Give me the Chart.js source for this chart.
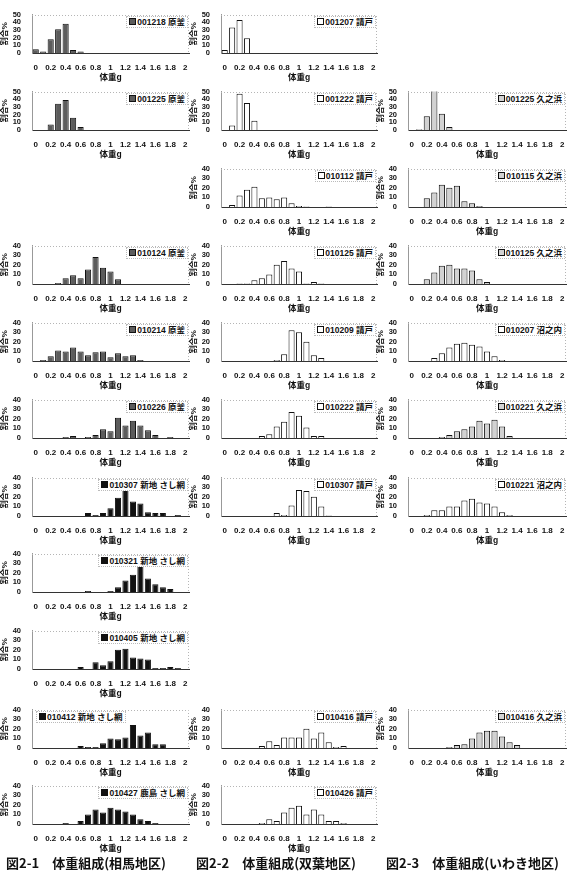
<!DOCTYPE html>
<html>
<head>
<meta charset="utf-8">
<script src="https://cdn.jsdelivr.net/npm/chart.js@4.4.1/dist/chart.umd.min.js"></script>
<style>
  body { margin:0; background:#fff; width:580px; height:882px; position:relative; overflow:hidden; }
  canvas.p { position:absolute; }
  .lg { position:absolute; font:bold 8.5px "Liberation Sans","Noto Sans CJK JP",sans-serif; color:#111;
        border:1px dotted #bbb; padding:0 2px; line-height:10px; white-space:nowrap; background:#fff; }
  .mk { display:inline-block; width:5px; height:5px; border:1px solid #111; margin-right:1px; vertical-align:0px; }
  .cap { position:absolute; top:853px; font:bold 13px "Noto Sans CJK JP",sans-serif; color:#111; white-space:pre; }
</style>
</head>
<body>
<script>
const _ = null;
// 体重階級 0〜2g (0.1g刻み)
const categories = ['0','0.1','0.2','0.3','0.4','0.5','0.6','0.7','0.8','0.9','1','1.1','1.2','1.3','1.4','1.5','1.6','1.7','1.8','1.9','2'];
const yTicks40 = [0,10,20,30,40];
const yTicks50 = [0,10,20,30,40,50];

// --- 図2-1 相馬地区 ---
const s001218_haragama = [5,2,18,31,38,4,2,_,_,_,_,_,_,_,_,_,_,_,_,_,_];
const s001225_haragama = [_,_,7,34,39,16,4,_,_,_,_,_,_,_,_,_,_,_,_,_,_];
const s010124_haragama = [_,_,_,1,6,9,6,15,28,17,13,5,_,_,_,_,_,_,_,_,_];
const s010214_haragama = [_,1,5,11,10,14,10,6,9,10,4,8,5,6,1,_,_,_,_,_,_];
const s010226_haragama = [_,_,_,_,1,2,_,1,3,9,7,21,13,18,13,8,3,_,1,_,_];
const s010307_shinchi  = [_,_,_,_,_,_,_,3,1,3,8,19,29,15,13,4,3,3,_,1,_];
const s010321_shinchi  = [_,_,_,_,_,_,_,1,_,_,1,5,12,18,32,14,8,5,3,_,_];
const s010405_shinchi  = [_,_,_,_,_,_,2,_,7,4,8,20,21,12,11,10,1,1,2,1,_];
const s010412_shinchi  = [_,_,_,_,_,_,2,1,1,5,10,9,11,24,13,16,4,4,_,_,_];
const s010427_kashima  = [_,_,_,_,1,_,3,10,15,12,17,15,13,10,5,3,1,_,_,_,_];

// --- 図2-2 双葉地区 ---
const s001207_ukedo = [4,33,43,19,_,_,_,_,_,_,_,_,_,_,_,_,_,_,_,_,_];
const s001222_ukedo = [_,6,47,35,12,_,_,_,_,_,_,_,_,_,_,_,_,_,_,_,_];
const s010112_ukedo = [_,2,12,18,21,9,10,8,10,4,1,0.5,_,_,0.5,_,_,_,_,_,_];
const s010125_ukedo = [_,_,0.5,0.5,4,6,10,20,24,16,13,0.5,2,0.5,_,_,_,_,_,_,_];
const s010209_ukedo = [_,_,_,_,_,_,_,1,7,32,30,20,6,3,_,_,_,_,_,_,_];
const s010222_ukedo = [_,_,_,_,_,2,4,12,17,27,23,11,2,2,_,_,_,_,_,_,_];
const s010307_ukedo = [_,_,_,_,_,_,_,3,1,11,27,26,20,10,0.5,_,_,_,_,_,_];
const s010416_ukedo = [_,_,_,_,_,2,7,3,11,11,11,20,10,16,6,1,2,_,_,_,_];
const s010426_ukedo = [_,_,_,_,_,1,5,3,12,17,19,10,15,10,3,3,1,_,_,_,_];

// --- 図2-3 いわき地区 ---
const s001225_hisanohama = [_,1,18,56,21,4,_,_,_,_,_,_,_,_,_,_,_,_,_,_,_];
const s010115_hisanohama = [_,_,9,15,23,20,22,6,4,1,_,_,_,_,_,_,_,_,_,_,_];
const s010125_hisanohama = [_,_,5,12,19,20,16,16,14,5,2,_,_,_,_,_,_,_,_,_,_];
const s010207_numanouchi = [_,_,_,3,8,14,18,19,17,15,10,5,1,_,_,_,_,_,_,_,_];
const s010221_hisanohama = [_,_,_,_,1,3,7,9,12,18,15,19,12,2,_,_,_,_,_,_,_];
const s010221_numanouchi = [_,_,1,6,6,10,10,16,18,14,13,10,4,1,_,_,_,_,_,_,_];
const s010416_hisanohama = [_,_,_,_,_,1,3,4,10,16,18,18,12,6,3,_,_,_,_,_,_];

const DARK = '#5c5c5c', BLACK = '#111', WHITE = '#fff', LIGHT = '#d2d2d2';

const panels = [
  {col:0,row:0, label:'001218 原釜', data:s001218_haragama, fill:DARK, yTicks:yTicks50},
  {col:0,row:1, label:'001225 原釜', data:s001225_haragama, fill:DARK, yTicks:yTicks50},
  {col:0,row:3, label:'010124 原釜', data:s010124_haragama, fill:DARK, yTicks:yTicks40},
  {col:0,row:4, label:'010214 原釜', data:s010214_haragama, fill:DARK, yTicks:yTicks40},
  {col:0,row:5, label:'010226 原釜', data:s010226_haragama, fill:DARK, yTicks:yTicks40},
  {col:0,row:6, label:'010307 新地 さし網', data:s010307_shinchi, fill:BLACK, yTicks:yTicks40},
  {col:0,row:7, label:'010321 新地 さし網', data:s010321_shinchi, fill:BLACK, yTicks:yTicks40},
  {col:0,row:8, label:'010405 新地 さし網', data:s010405_shinchi, fill:BLACK, yTicks:yTicks40},
  {col:0,row:9, label:'010412 新地 さし網', data:s010412_shinchi, fill:BLACK, yTicks:yTicks40, align:'start'},
  {col:0,row:10,label:'010427 鹿島 さし網', data:s010427_kashima, fill:BLACK, yTicks:yTicks40},

  {col:1,row:0, label:'001207 請戸', data:s001207_ukedo, fill:WHITE, yTicks:yTicks50},
  {col:1,row:1, label:'001222 請戸', data:s001222_ukedo, fill:WHITE, yTicks:yTicks50},
  {col:1,row:2, label:'010112 請戸', data:s010112_ukedo, fill:WHITE, yTicks:yTicks40},
  {col:1,row:3, label:'010125 請戸', data:s010125_ukedo, fill:WHITE, yTicks:yTicks40},
  {col:1,row:4, label:'010209 請戸', data:s010209_ukedo, fill:WHITE, yTicks:yTicks40},
  {col:1,row:5, label:'010222 請戸', data:s010222_ukedo, fill:WHITE, yTicks:yTicks40},
  {col:1,row:6, label:'010307 請戸', data:s010307_ukedo, fill:WHITE, yTicks:yTicks40},
  {col:1,row:9, label:'010416 請戸', data:s010416_ukedo, fill:WHITE, yTicks:yTicks40},
  {col:1,row:10,label:'010426 請戸', data:s010426_ukedo, fill:WHITE, yTicks:yTicks40},

  {col:2,row:1, label:'001225 久之浜', data:s001225_hisanohama, fill:LIGHT, yTicks:yTicks50},
  {col:2,row:2, label:'010115 久之浜', data:s010115_hisanohama, fill:LIGHT, yTicks:yTicks40},
  {col:2,row:3, label:'010125 久之浜', data:s010125_hisanohama, fill:LIGHT, yTicks:yTicks40},
  {col:2,row:4, label:'010207 沼之内', data:s010207_numanouchi, fill:WHITE, yTicks:yTicks40},
  {col:2,row:5, label:'010221 久之浜', data:s010221_hisanohama, fill:LIGHT, yTicks:yTicks40},
  {col:2,row:6, label:'010221 沼之内', data:s010221_numanouchi, fill:WHITE, yTicks:yTicks40},
  {col:2,row:9, label:'010416 久之浜', data:s010416_hisanohama, fill:LIGHT, yTicks:yTicks40},
];

// layout
const COL_LEFT = [32, 221, 408];
const COL_W = [157, 156, 158];
const ROW_ZERO = [53,130,207,284,361,438,516,592,669,748,824];
const PLOT_H = 40, PAD_TOP = 6, XH = 30, YW = 32, PAD_R = 3;

const FONT = '"Liberation Sans","Noto Sans CJK JP",sans-serif';

// 点線のプロット枠 (上・右)
const frame = {
  id: 'frame',
  beforeDatasetsDraw(c) {
    const { ctx, chartArea: a } = c;
    ctx.save();
    ctx.strokeStyle = '#b5b5b5';
    ctx.lineWidth = 1;
    ctx.setLineDash([1, 2]);
    ctx.beginPath();
    ctx.moveTo(a.left, Math.round(a.top) + 0.5);
    ctx.lineTo(Math.round(a.right) - 0.5, Math.round(a.top) + 0.5);
    ctx.lineTo(Math.round(a.right) - 0.5, a.bottom);
    ctx.stroke();
    ctx.restore();
  }
};

function makePanel(p) {
  const left = COL_LEFT[p.col] - YW;
  const top = ROW_ZERO[p.row] - PLOT_H - PAD_TOP;
  const cv = document.createElement('canvas');
  cv.className = 'p';
  cv.width = YW + COL_W[p.col] + PAD_R;
  cv.height = PAD_TOP + PLOT_H + XH;
  cv.style.left = left + 'px';
  cv.style.top = top + 'px';
  document.body.appendChild(cv);

  const yMax = p.yTicks[p.yTicks.length - 1];
  const chart = new Chart(cv, {
    type: 'bar',
    data: {
      labels: categories,
      datasets: [{
        label: p.label,
        data: p.data,
        backgroundColor: p.fill,
        borderColor: '#111',
        borderWidth: 1,
        barPercentage: 0.82,
        categoryPercentage: 1.0
      }]
    },
    options: {
      responsive: false,
      animation: false,
      layout: { padding: { top: PAD_TOP, right: PAD_R, left: 0, bottom: 0 } },
      plugins: { legend: { display: false }, tooltip: { enabled: false } },
      scales: {
        x: {
          grid: { display: false },
          border: { display: true, color: '#333', width: 1 },
          ticks: {
            autoSkip: false, maxRotation: 0, minRotation: 0, padding: 2,
            color: '#111', font: { family: FONT, size: 8, weight: 'bold' },
            callback: (v, i) => (i % 2 === 0 ? categories[i] : '')
          },
          title: { display: true, text: '体重g', color: '#111', padding: { top: 0, bottom: 0 },
                   font: { family: FONT, size: 8.5, weight: 'bold' } },
          afterFit: (s) => { s.height = XH; }
        },
        y: {
          min: 0, max: yMax,
          grid: { display: false },
          border: { display: true, color: '#999', width: 1 },
          afterBuildTicks: (s) => { s.ticks = p.yTicks.map(v => ({ value: v })); },
          ticks: { autoSkip: false, padding: 3, color: '#111', font: { family: FONT, size: 7.5, weight: 'bold' } },
          title: { display: true, text: '割合%', color: '#111', padding: { top: 0, bottom: 2 },
                   font: { family: FONT, size: 8, weight: 'bold' } },
          afterFit: (s) => { s.width = YW; }
        }
      }
    },
    plugins: [frame]
  });

  // 凡例
  const a = chart.chartArea;
  const lg = document.createElement('div');
  lg.className = 'lg';
  const mk = document.createElement('span');
  mk.className = 'mk';
  mk.style.background = p.fill;
  lg.appendChild(mk);
  lg.appendChild(document.createTextNode(p.label));
  lg.style.top = (top + a.top + 1) + 'px';
  if (p.align === 'start') lg.style.left = (left + a.left + 4) + 'px';
  else lg.style.right = (580 - (left + a.right) + 1) + 'px';
  document.body.appendChild(lg);
}

panels.forEach(makePanel);

// 図タイトル
[['図2-1　体重組成(相馬地区)', 6], ['図2-2　体重組成(双葉地区)', 196], ['図2-3　体重組成(いわき地区)', 386]]
  .forEach(([t, x]) => {
    const d = document.createElement('div');
    d.className = 'cap';
    d.style.left = x + 'px';
    d.textContent = t;
    document.body.appendChild(d);
  });
</script>
</body>
</html>
